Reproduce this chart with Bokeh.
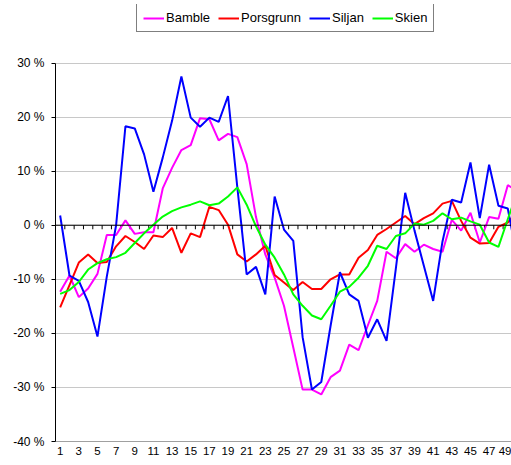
from bokeh.plotting import figure
from bokeh.models import FixedTicker, Legend, LegendItem, Span, Range1d
from bokeh.embed import file_html
from bokeh.resources import INLINE

# ---- data ----
categories = list(range(1, 51))
bamble = [-12.3, -9.3, -13.3, -11.7, -9.0, -1.8, -1.8, 0.9, -1.6, -1.3,
          -1.3, 6.8, 10.6, 13.9, 14.8, 19.8, 19.6, 15.7, 16.9, 16.3,
          11.3, 1.5, -5.4, -9.7, -14.9, -22.6, -30.4, -30.4, -31.3, -28.1,
          -26.9, -22.1, -23.1, -18.5, -14.0, -4.9, -6.1, -3.5, -4.9, -3.6,
          -4.4, -4.9, 1.0, -1.0, 2.3, -3.2, 1.5, 1.2, 7.4, 6.4]
porsgrunn = [-15.2, -11.1, -6.9, -5.4, -7.0, -6.8, -3.9, -2.0, -3.1, -4.4,
             -1.9, -2.2, -0.5, -5.1, -1.5, -2.2, 3.4, 2.8, 0.1, -5.4,
             -6.7, -5.4, -3.8, -9.2, -10.6, -12.0, -10.5, -11.8, -11.8, -10.0,
             -9.1, -9.1, -6.0, -4.6, -1.8, -0.7, 0.5, 1.7, 0.2, 1.3,
             2.2, 4.0, 4.5, 0.8, -2.3, -3.4, -3.3, -0.3, 0.5, 2.5]
siljan = [1.8, -9.3, -10.3, -14.2, -20.6, -9.5, 0.0, 18.3, 17.9, 13.1,
          6.2, 12.5, 19.3, 27.5, 19.9, 18.2, 19.9, 19.1, 23.9, 7.0,
          -9.1, -7.7, -12.8, 5.3, -0.8, -2.9, -20.7, -30.4, -29.0, -18.6,
          -8.7, -12.8, -14.0, -20.8, -17.4, -21.4, -8.0, 6.0, -1.0, -7.5,
          -14.0, -3.0, 4.7, 4.2, 11.6, 1.3, 11.2, 3.6, 3.1, -6.0]
skien = [-12.7, -12.0, -10.5, -8.2, -7.0, -6.3, -5.9, -5.1, -3.3, -1.5,
         0.1, 1.6, 2.6, 3.3, 3.8, 4.4, 3.7, 4.0, 5.3, 7.0,
         3.8, -0.2, -3.6, -6.0, -9.1, -12.8, -14.9, -16.7, -17.4, -14.9,
         -12.3, -11.4, -9.7, -7.5, -3.8, -4.4, -2.0, -1.5, 0.3, 0.1,
         0.8, 2.2, 1.1, 1.4, 0.7, 0.1, -3.2, -4.0, 1.1, 6.0]
series_names = ["Bamble", "Porsgrunn", "Siljan", "Skien"]
series_colors = ["#FF00FF", "#FF0000", "#0000FF", "#00FF00"]
y_ticks = [-40, -30, -20, -10, 0, 10, 20, 30]
y_tick_labels = [f"{t} %" for t in y_ticks]
x_ticks = categories[0:49:2]

FONT = "Liberation Sans"

# frame runs from 4px to 441px; the value axis covers -40..30 (378.5px),
# the area above 30 % holds the legend
px_per_pct = 378.5 / (y_ticks[-1] - y_ticks[0])
y_top = y_ticks[0] + 437 / px_per_pct

p = figure(width=511, height=465, output_backend="svg", toolbar_location=None,
           x_range=Range1d(0.5, 49.4), y_range=Range1d(y_ticks[0], y_top),
           min_border_left=55, min_border_right=0, min_border_top=4,
           min_border_bottom=24)
p.outline_line_color = None
p.background_fill_color = "white"
p.border_fill_color = "white"

# grid
p.xgrid.visible = False
p.ygrid.ticker = FixedTicker(ticks=y_ticks)
p.ygrid.grid_line_color = "#c8c8c8"
p.ygrid.grid_line_width = 1

# y axis
p.yaxis.ticker = FixedTicker(ticks=y_ticks)
p.yaxis.bounds = (y_ticks[0], y_ticks[-1])
p.yaxis.major_label_overrides = {t: l for t, l in zip(y_ticks, y_tick_labels)}
p.yaxis.axis_line_color = "black"
p.yaxis.major_tick_line_color = "black"
p.yaxis.major_tick_out = 4
p.yaxis.major_tick_in = 0
p.yaxis.minor_tick_line_color = None
p.yaxis.major_label_text_font = FONT
p.yaxis.major_label_text_font_size = "12px"
p.yaxis.major_label_text_color = "black"
p.yaxis.major_label_standoff = 7

# x axis (labels at bottom)
p.xaxis.ticker = FixedTicker(ticks=x_ticks)
p.xaxis.axis_line_color = "#a0a0a0"
p.xaxis.major_tick_line_color = None
p.xaxis.major_tick_out = 0
p.xaxis.major_tick_in = 0
p.xaxis.minor_tick_line_color = None
p.xaxis.major_label_text_font = FONT
p.xaxis.major_label_text_font_size = "11.5px"
p.xaxis.major_label_text_color = "black"
p.xaxis.major_label_standoff = 5

# zero line with category boundary ticks
p.add_layout(Span(location=0, dimension="width", line_color="black", line_width=1))
bounds = [c - 0.5 for c in categories]
p.segment(x0=bounds, x1=bounds, y0=[0] * len(bounds), y1=[-0.75] * len(bounds),
          line_color="black", line_width=1)

renderers = []
for name, vals, col in zip(series_names, [bamble, porsgrunn, siljan, skien], series_colors):
    r = p.line(categories, vals, line_color=col, line_width=2)
    renderers.append((name, r))

legend = Legend(items=[LegendItem(label=n, renderers=[r]) for n, r in renderers],
                orientation="horizontal", location=(81, 409), margin=0,
                padding=6, spacing=8, glyph_width=21, glyph_height=12,
                label_standoff=2, label_text_font=FONT, label_text_font_size="13px",
                label_text_color="black", border_line_color="black",
                border_line_width=1, background_fill_color="white")
p.add_layout(legend)

open("out.html", "w").write(file_html(p, INLINE))
